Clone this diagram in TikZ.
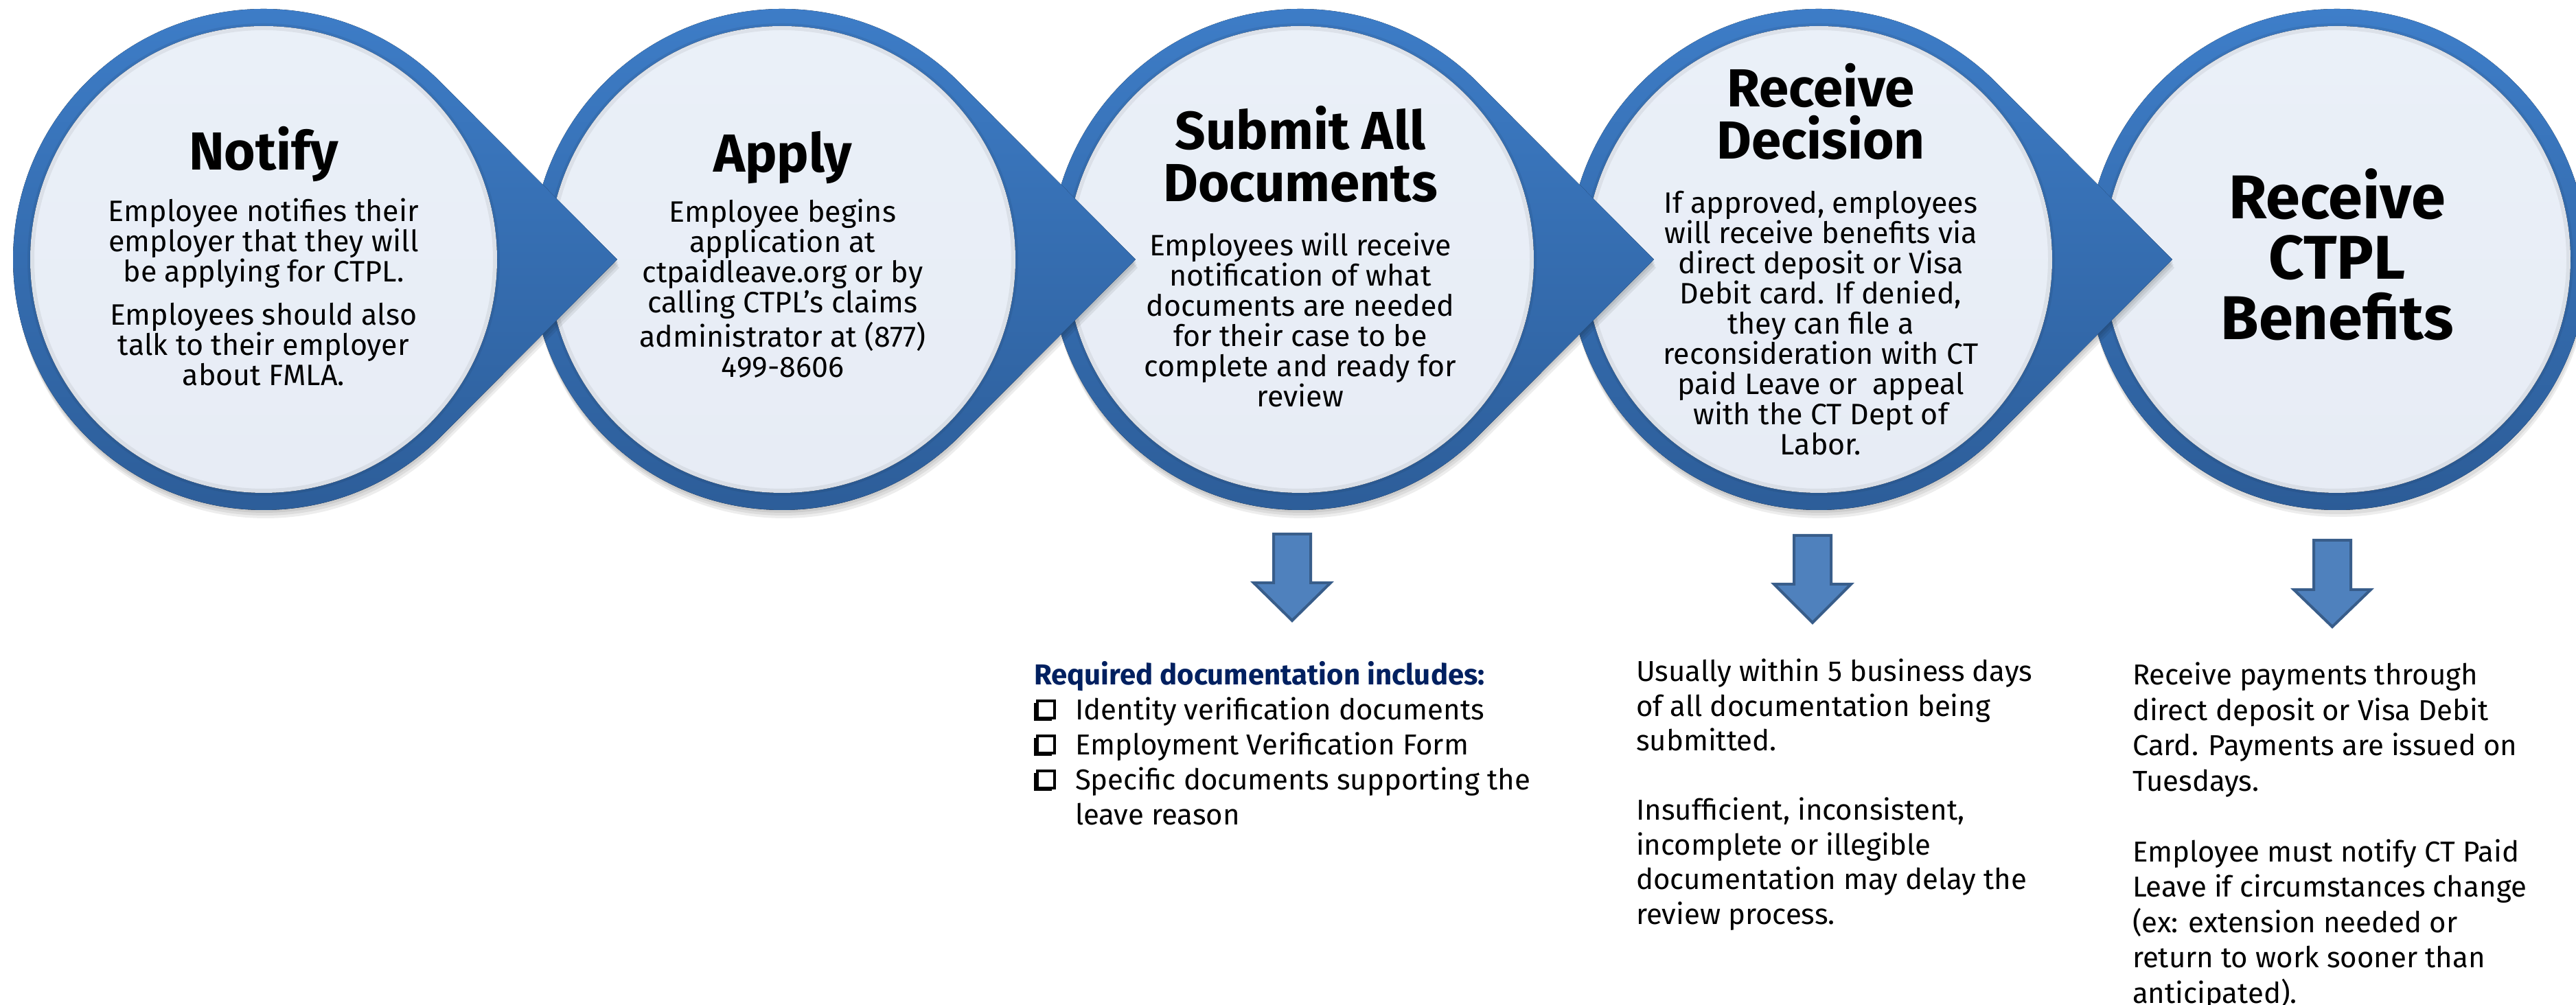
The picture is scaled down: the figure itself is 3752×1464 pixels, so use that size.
\documentclass[tikz,border=0pt]{standalone}
\usepackage{fontspec}
\setmainfont{Fira Sans}
\definecolor{ringtop}{HTML}{3E7EC9}
\definecolor{ringbot}{HTML}{2C5C97}
\definecolor{innertop}{HTML}{EAF0F8}
\definecolor{innerbot}{HTML}{E7ECF5}
\definecolor{arrowfill}{HTML}{4F81BD}
\definecolor{arrowline}{HTML}{385D8A}
\definecolor{navy}{HTML}{002060}
\tikzset{
  ring/.style={top color=ringtop, bottom color=ringbot, draw=none},
  innerdisc/.style={top color=innertop, bottom color=innerbot, draw=none},
  shadowlayer/.style={fill=black, opacity=0.07, draw=none},
  downarrow/.style={fill=arrowfill, draw=arrowline, line width=0.8pt, line join=miter},
  ctitle/.style={font=\fontsize{15.6}{15.2}\selectfont\bfseries, align=center, anchor=base, inner sep=0pt},
  bigtitle/.style={font=\fontsize{18}{17.6}\selectfont\bfseries, align=center, anchor=base, inner sep=0pt},
  cbody/.style={font=\fontsize{8.6}{8.8}\selectfont, align=center, anchor=base, inner sep=0pt},
  note/.style={font=\fontsize{8.4}{10.1}\selectfont, align=left, anchor=base west, inner sep=0pt},
  chkshadow/.style={fill=black, draw=none},
  chkbox/.style={fill=white, draw=black, line width=0.8pt},
}
% teardrop outline: circle centre (#1,1086), radius 365, tip 515 to the right
\newcommand\dropfill[2]{\fill[#2] (#1+515,1086) -- (#1+258.1,1344.1) arc[start angle=45,end angle=315,radius=365] -- cycle;}
\newcommand\discfill[2]{\fill[#2] (#1,1086) circle[radius=340];}
\newcommand\stepshape[1]{%
  \dropfill{#1}{shadowlayer, shift={(1,-4)}}%
  \dropfill{#1}{shadowlayer, shift={(2,-8)}}%
  \dropfill{#1}{shadowlayer, shift={(3,-12)}}%
  \dropfill{#1}{ring}%
  \discfill{#1}{innerdisc}%
  \draw[black, opacity=0.06, line width=2] (#1,1086) circle[radius=339];%
}
\newcommand\downshape[4]{\draw[downarrow] (#1-27,#2) -- (#1+27,#2) -- (#1+27,#3) -- (#1+56,#3) -- (#1,#4) -- (#1-56,#3) -- (#1-27,#3) -- cycle;}
\newcommand\checkmarkbox[1]{%
  \fill[chkshadow] (1506,#1-1) rectangle (1532,#1+25);%
  \draw[chkbox] (1511,#1+3) rectangle (1536,#1+28);%
}
\begin{document}
\begin{tikzpicture}[x=0.2pt,y=0.2pt]
\useasboundingbox (0,0) rectangle (3752,1464);
\clip (0,0) rectangle (3752,1464);
\fill[white] (0,0) rectangle (3752,1464);

% last circle (no pointer)
\fill[shadowlayer] (3405,1080) circle[radius=365];
\fill[shadowlayer] (3406,1076) circle[radius=365];
\fill[ring] (3404,1086) circle[radius=365];
\discfill{3404}{innerdisc}
\draw[black, opacity=0.06, line width=2] (3404,1086) circle[radius=339];

% circles with pointers, right to left so each tip lies over the next circle
\stepshape{2649}
\stepshape{1894}
\stepshape{1139}
\stepshape{384}

% named centres
\coordinate (c1) at (384,1086);
\coordinate (c2) at (1139,1086);
\coordinate (c3) at (1894,1086);
\coordinate (c4) at (2649,1086);
\coordinate (c5) at (3404,1086);

% texts in circles (anchor = baseline of the last line)
\node[ctitle] (t1) at (384,1216) {Notify};
\node[cbody] (b1) at (384,902) {Employee notifies their\\employer that they will\\be applying for CTPL.\\[3.8pt]Employees should also\\talk to their employer\\about FMLA.};

\node[ctitle] (t2) at (1140,1213) {Apply};
\node[cbody] (b2) at (1140,914) {Employee begins\\application at\\ctpaidleave.org or by\\calling CTPL’s claims\\administrator at (877)\\499-8606};

\node[ctitle] (t3) at (1894,1170) {Submit All\\Documents};
\node[cbody] (b3) at (1894,871) {Employees will receive\\notification of what\\documents are needed\\for their case to be\\complete and ready for\\review};

\node[ctitle] (t4) at (2652,1232) {Receive\\Decision};
\node[cbody] (b4) at (2652,801) {If approved, employees\\will receive benefits via\\direct deposit or Visa\\Debit card. If denied,\\they can file a\\reconsideration with CT\\paid Leave or \ appeal\\with the CT Dept of\\Labor.};

\node[bigtitle] (t5) at (3404,969) {Receive\\CTPL\\Benefits};

% down arrows
\downshape{1882}{686}{615}{560}
\downshape{2640}{684}{613}{557}
\downshape{3397}{677}{605}{551}

% notes below
\node[note, font=\fontsize{8.4}{10.1}\selectfont\bfseries, text=navy] (h3) at (1505,466) {Required documentation includes:};
\checkmarkbox{415}
\checkmarkbox{364}
\checkmarkbox{313}
\node[note, font=\fontsize{8.4}{10.2}\selectfont] (n3) at (1565,262) {Identity verification documents\\Employment Verification Form\\Specific documents supporting the\\leave reason};

\node[note] (n4) at (2382,117.5) {Usually within 5 business days\\of all documentation being\\submitted.\\[10.1pt]Insufficient, inconsistent,\\incomplete or illegible\\documentation may delay the\\review process.};

\node[note, font=\fontsize{8.4}{10.3}\selectfont] (n5) at (3105,2.5) {Receive payments through\\direct deposit or Visa Debit\\Card. Payments are issued on\\Tuesdays.\\[10.3pt]Employee must notify CT Paid\\Leave if circumstances change\\(ex: extension needed or\\return to work sooner than\\anticipated).};
\end{tikzpicture}
\end{document}
